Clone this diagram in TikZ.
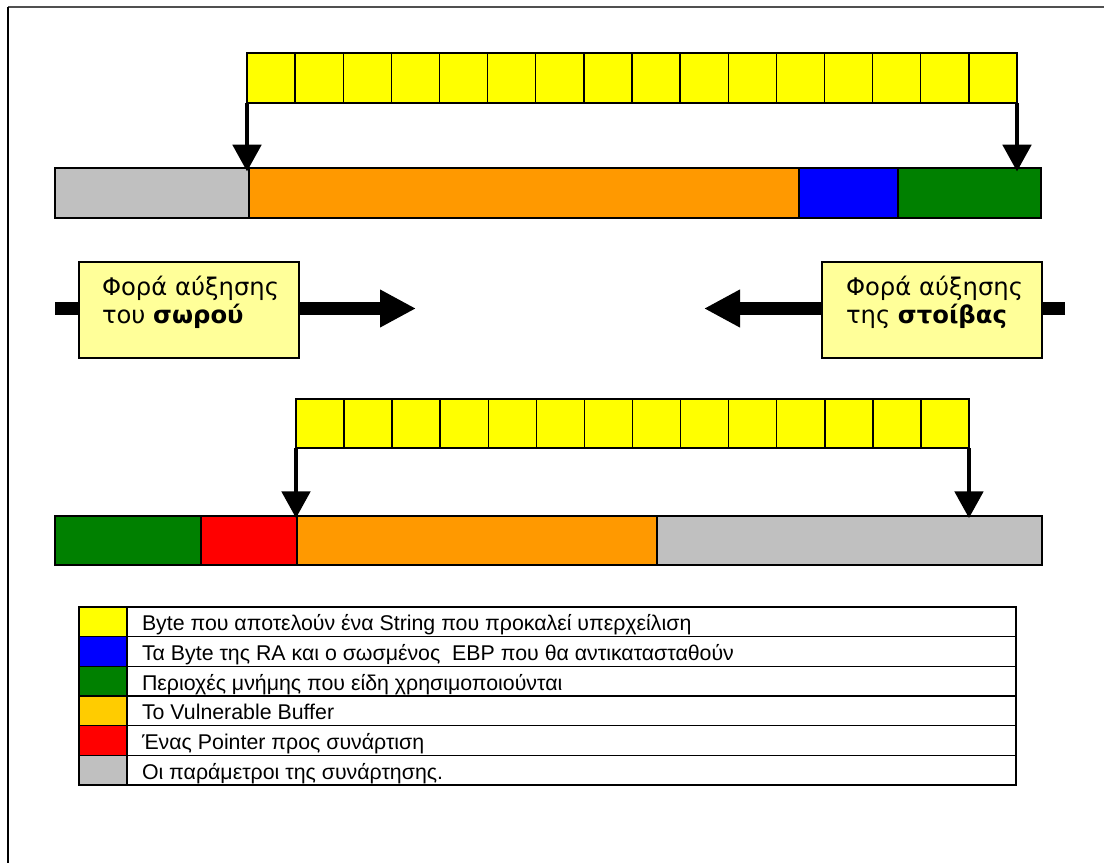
\documentclass[tikz,border=0pt]{standalone}
\usepackage{fontspec}
\setmainfont{Liberation Sans}
\newfontfamily\boxfont{DejaVu Sans}
\usetikzlibrary{arrows.meta}
\definecolor{cyel}{HTML}{FFFF00}
\definecolor{clyel}{HTML}{FFFF99}
\definecolor{corange}{HTML}{FF9900}
\definecolor{cgold}{HTML}{FFCC00}
\definecolor{cblue}{HTML}{0000FF}
\definecolor{cgreen}{HTML}{008000}
\definecolor{cred}{HTML}{FF0000}
\definecolor{cgray}{HTML}{C0C0C0}
\definecolor{cframe}{HTML}{505050}
\tikzset{
  seg/.style={draw=black, line width=1.1pt, inner sep=0pt, outer sep=0pt},
  topcell/.style={seg, fill=cyel, minimum width=36.09pt, minimum height=37.5pt},
  botcell/.style={seg, fill=cyel, minimum width=36.05pt, minimum height=36.75pt},
  topseg/.style={seg, minimum height=37.5pt},
  botseg/.style={seg, minimum height=36.75pt},
  varrow/.style={draw=black, line width=2.3pt, -{Triangle[length=20pt,width=21.5pt]}},
  harrow/.style={draw=black, line width=9.75pt, -{Triangle[length=27pt,width=26.5pt]}},
  growbox/.style={seg, fill=clyel, minimum width=165pt, minimum height=72pt},
  btxt/.style={inner sep=0pt, outer sep=0pt, font=\boxfont\fontsize{18.2}{21}\selectfont},
  swatch/.style={seg, minimum width=36pt, minimum height=22.25pt},
  legcell/.style={seg, fill=white, minimum width=666.75pt, minimum height=22.25pt},
  legtxt/.style={inner sep=0pt, outer sep=0pt, font=\fontsize{16}{19}\selectfont}
}
\begin{document}
\begin{tikzpicture}[x=0.75pt,y=-0.75pt]
\useasboundingbox (0,0) rectangle (1104,863);
\fill[white] (0,0) rectangle (1104,863);
% frame
\draw[cframe, line width=1.6pt] (8,7) -- (1104,7);
\draw[black, line width=1.5pt] (8,7) -- (8,863);

% top yellow string
\foreach \i in {1,...,16}{
  \node[topcell] (t\i) at ({247+48.125*(\i-0.5)},78) {};
}
% top memory bar
\node[topseg, fill=cgray, minimum width=145.5pt] (b1g) at (152,193) {};
\node[topseg, fill=corange, minimum width=412.5pt] (b1o) at (524,193) {};
\node[topseg, fill=cblue, minimum width=74.25pt] (b1b) at (848.5,193) {};
\node[topseg, fill=cgreen, minimum width=107.25pt] (b1n) at (969.5,193) {};
\coordinate (a1) at (t1.south west |- b1o.north);
\coordinate (a2) at (t16.south east |- b1n.north);
\draw[varrow] (t1.south west) -- ([yshift=-2.5pt]a1);
\draw[varrow] (t16.south east) -- ([yshift=-2.5pt]a2);

% growth direction arrows
\coordinate (hl0) at (55,308.5);
\coordinate (hl1) at (416,308.5);
\coordinate (hr0) at (1065,308.5);
\coordinate (hr1) at (704,308.5);
\draw[harrow] (hl0) -- (hl1);
\draw[harrow] (hr0) -- (hr1);
\node[growbox] (lbox) at (189,310) {};
\node[growbox] (rbox) at (932,310) {};
\node[btxt, anchor=base west] (lt1) at (102,296) {Φορά αύξησης};
\node[btxt, anchor=base west] (lt2) at (102,324) {του \textbf{σωρού}};
\node[btxt, anchor=base west] (rt1) at (846,296) {Φορά αύξησης};
\node[btxt, anchor=base west] (rt2) at (846,324) {της \textbf{στοίβας}};

% bottom yellow string
\foreach \i in {1,...,14}{
  \node[botcell] (u\i) at ({296+48.07*(\i-0.5)},423.5) {};
}
% bottom memory bar
\node[botseg, fill=cgreen, minimum width=109.5pt] (b2n) at (128,540.5) {};
\node[botseg, fill=cred, minimum width=72pt] (b2r) at (249,540.5) {};
\node[botseg, fill=corange, minimum width=270pt] (b2o) at (477,540.5) {};
\node[botseg, fill=cgray, minimum width=288.75pt] (b2g) at (849.5,540.5) {};
\coordinate (a3) at (u1.south west |- b2o.north);
\coordinate (a4) at (u14.south east |- b2g.north);
\draw[varrow] (u1.south west) -- ([yshift=-1.5pt]a3);
\draw[varrow] (u14.south east) -- ([yshift=-1.5pt]a4);

% legend
\foreach \i/\c/\t in {
  1/cyel/{Byte που αποτελούν ένα String που προκαλεί υπερχείλιση},
  2/cblue/{Τα Byte της RA και ο σωσμένος\ \ EBP που θα αντικατασταθούν},
  3/cgreen/{Περιοχές μνήμης που είδη χρησιμοποιούνται},
  4/cgold/{Το Vulnerable Buffer},
  5/cred/{Ένας Pointer προς συνάρτιση},
  6/cgray/{Οι παράμετροι της συνάρτησης.}}{
  \node[swatch, fill=\c] (s\i) at (103,{607+29.67*(\i-0.5)}) {};
  \node[legcell] (c\i) at (571.5,{607+29.67*(\i-0.5)}) {};
  \node[legtxt, anchor=base west] (l\i) at (142,{607+29.67*\i-6}) {\t};
}
\end{tikzpicture}
\end{document}
